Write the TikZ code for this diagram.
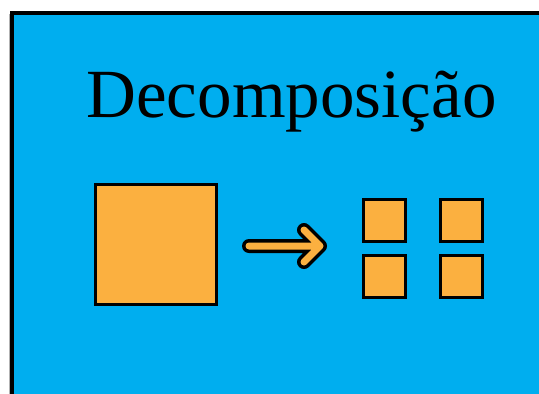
\documentclass[tikz,border=0pt]{standalone}
\usepackage{fontspec}
\setmainfont{Liberation Serif}
\definecolor{panelblue}{HTML}{00AEEF}
\definecolor{blockorange}{HTML}{FBB040}
\begin{document}
\begin{tikzpicture}[x=1pt,y=-1pt,
  block/.style={draw=black,line width=3pt,fill=blockorange},
  outline/.style={draw=black,line width=14pt,line cap=round,line join=round},
  inner/.style={draw=blockorange,line width=7pt,line cap=round,line join=round}]
  \useasboundingbox (0,0) rectangle (539,394);
  % panel with its frame on the top and left
  \fill[white] (0,0) rectangle (539,394);
  \fill[panelblue] (12,13) rectangle (545,400);
  \draw[black,line width=4pt] (11.5,400) -- (11.5,13) -- (545,13);
  \draw[gray!60,line width=1pt] (9,14) -- (9,400);
  % title
  \node[anchor=base,inner sep=0pt,font=\fontsize{69}{80}\selectfont] (title) at (291.5,117) {Decomposição};
  % whole block
  \node[block,minimum width=121pt,minimum height=120pt,inner sep=0pt] (whole) at (156,244) {};
  % four parts
  \node[block,minimum width=42pt,minimum height=42pt,inner sep=0pt] (p1) at (384,220) {};
  \node[block,minimum width=42pt,minimum height=42pt,inner sep=0pt] (p2) at (461.5,220) {};
  \node[block,minimum width=42pt,minimum height=42pt,inner sep=0pt] (p3) at (384,276.5) {};
  \node[block,minimum width=42pt,minimum height=42pt,inner sep=0pt] (p4) at (461.5,276.5) {};
  % outlined arrow between the whole and its parts
  \coordinate (a0) at (249,246);
  \coordinate (a1) at (320,246);
  \coordinate (h1) at (304,230);
  \coordinate (h2) at (304,262);
  \draw[outline] (a0) -- (a1) (h1) -- (a1) -- (h2);
  \draw[inner] (a0) -- (a1) (h1) -- (a1) -- (h2);
\end{tikzpicture}
\end{document}
